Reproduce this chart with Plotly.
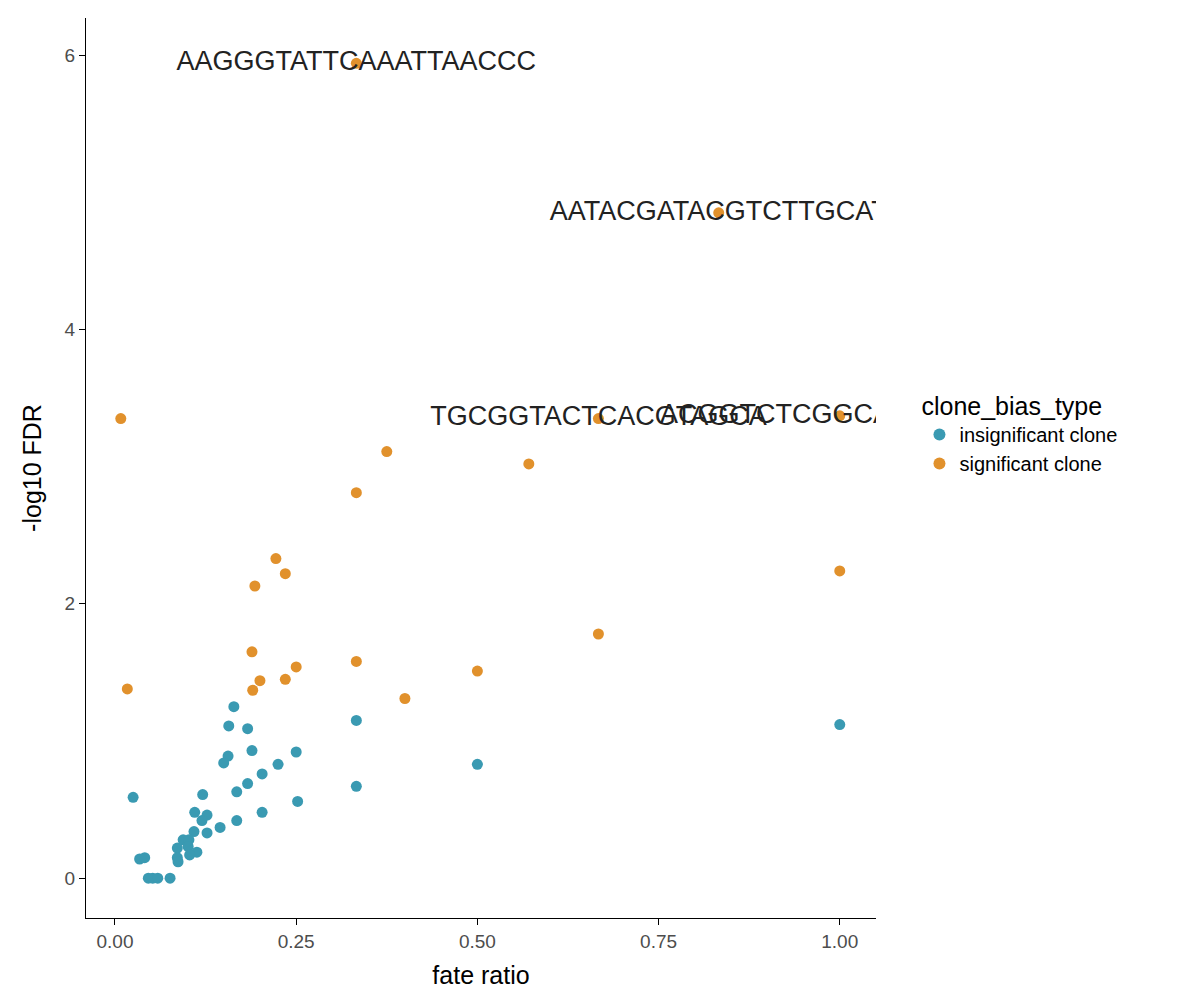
import plotly.graph_objects as go

# insignificant clones
ins_x = [0.164, 0.157, 0.183, 0.333, 0.333, 0.189, 0.25, 0.156, 0.150, 0.225, 0.203, 0.183,
         0.168, 0.025, 0.121, 0.252, 0.203, 0.168, 0.110, 0.127, 0.120, 0.145, 0.109, 0.127,
         0.094, 0.102, 0.086, 0.101, 0.113, 0.103, 0.086, 0.087, 0.034, 0.041, 0.046, 0.052,
         0.059, 0.076, 1.0, 0.5]
ins_y = [1.25, 1.11, 1.09, 1.15, 0.67, 0.93, 0.92, 0.89, 0.84, 0.83, 0.76, 0.69,
         0.63, 0.59, 0.61, 0.56, 0.48, 0.42, 0.48, 0.46, 0.42, 0.37, 0.34, 0.33,
         0.28, 0.28, 0.22, 0.23, 0.19, 0.17, 0.15, 0.12, 0.14, 0.15, 0.0, 0.0,
         0.0, 0.0, 1.12, 0.83]

# significant clones
sig_x = [0.008, 0.017, 0.333, 0.833, 0.667, 1.0, 0.375, 0.571, 0.333, 0.222, 0.235, 0.193,
         1.0, 0.667, 0.189, 0.25, 0.333, 0.2, 0.235, 0.19, 0.5, 0.4]
sig_y = [3.35, 1.38, 5.94, 4.85, 3.35, 3.37, 3.11, 3.02, 2.81, 2.33, 2.22, 2.13,
         2.24, 1.78, 1.65, 1.54, 1.58, 1.44, 1.45, 1.37, 1.51, 1.31]

# labelled clones
lab_x = [0.333, 0.833, 0.667, 1.0]
lab_y = [5.94, 4.85, 3.35, 3.37]
lab_text = ["AAGGGTATTCAAATTAACCC", "AATACGATACGTCTTGCAT", "TGCGGTACTCACGTAGCA",
            "ACGGTCTCGGCAATCCAGA"]

fig = go.Figure()
fig.add_trace(go.Scatter(x=ins_x, y=ins_y, mode="markers", name="insignificant clone",
                         marker=dict(color="#3A9AB2", size=11)))
fig.add_trace(go.Scatter(x=sig_x, y=sig_y, mode="markers", name="significant clone",
                         marker=dict(color="#E1912C", size=11)))
fig.add_trace(go.Scatter(x=lab_x, y=lab_y, mode="text", text=lab_text, showlegend=False,
                         textposition="middle center",
                         textfont=dict(size=27, color="#222222"), cliponaxis=True))

fig.update_layout(
    width=1200, height=1000,
    margin=dict(l=78, r=332, t=10, b=90),
    plot_bgcolor="white", paper_bgcolor="white",
    font=dict(family="Liberation Sans, Arial", color="#000000"),
    legend=dict(title=dict(text="clone_bias_type", font=dict(size=25)),
                font=dict(size=20), x=1.055, y=0.595, yanchor="top",
                itemsizing="constant", tracegroupgap=10),
)
fig.update_xaxes(range=[-0.04, 1.05], tickvals=[0, 0.25, 0.5, 0.75, 1.0],
                 ticktext=["0.00", "0.25", "0.50", "0.75", "1.00"], automargin=False,
                 showgrid=False, zeroline=False, showline=True, linecolor="black",
                 ticks="outside", ticklen=6, tickcolor="black",
                 tickfont=dict(size=19, color="#4d4d4d"),
                 title=dict(text="fate ratio", font=dict(size=25), standoff=15))
fig.update_yaxes(range=[-0.29, 6.27], tickvals=[0, 2, 4, 6], automargin=False,
                 showgrid=False, zeroline=False, showline=True, linecolor="black",
                 ticks="outside", ticklen=6, tickcolor="black",
                 tickfont=dict(size=19, color="#4d4d4d"),
                 title=dict(text="-log10 FDR", font=dict(size=25), standoff=15))

fig.write_html("out.html")
